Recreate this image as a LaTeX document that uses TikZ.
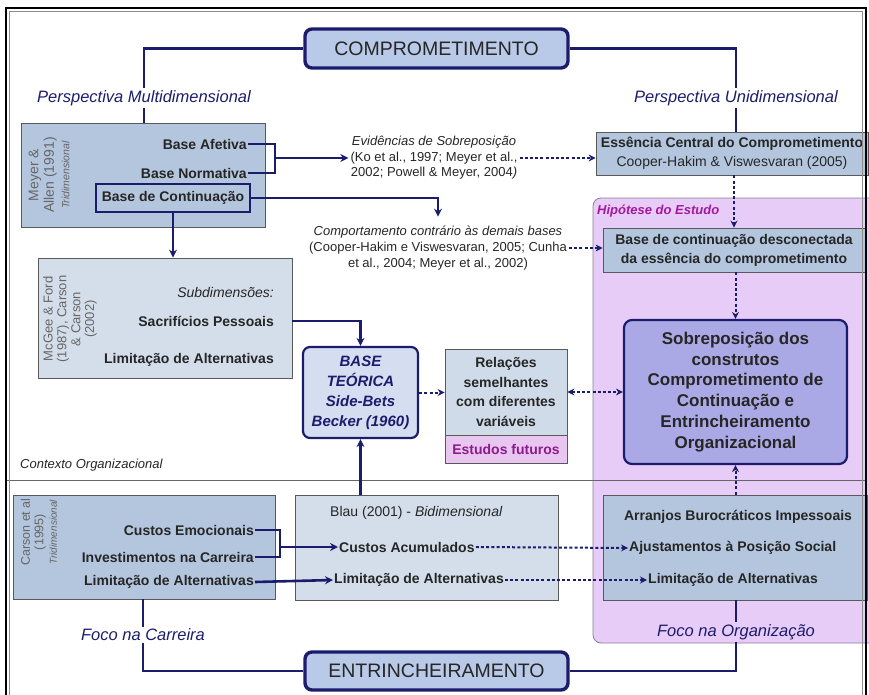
\documentclass[tikz,border=0pt]{standalone}
\usepackage{fontspec}
\setmainfont{Liberation Sans}
\usetikzlibrary{arrows.meta}

\definecolor{dknavy}{HTML}{1C1C6C}
\definecolor{steel}{HTML}{B4C6DE}
\definecolor{pale}{HTML}{D4DEEA}
\definecolor{keyfill}{HTML}{B9C9E8}
\definecolor{basefill}{HTML}{D5DEF1}
\definecolor{sobfill}{HTML}{ABA8E6}
\definecolor{hipfill}{HTML}{E7CCF8}
\definecolor{hipline}{HTML}{8F7C9C}
\definecolor{hipcol}{HTML}{A3199B}
\definecolor{futfill}{HTML}{E9C6F0}
\definecolor{futcol}{HTML}{8C1A8C}
\definecolor{relfill}{HTML}{CFDBE8}

\begin{document}
\begin{tikzpicture}[x=1pt,y=1pt,yscale=-1,
  lbl/.style={inner sep=1pt, text=black!85, font=\fontsize{14}{19}\selectfont\bfseries},
  cite/.style={inner sep=2pt, align=center, text=black!85, font=\fontsize{13}{16}\selectfont},
  persp/.style={inner sep=2pt, text=dknavy, font=\fontsize{16.5}{19}\selectfont\itshape},
  side/.style={rotate=90, align=center, inner sep=0pt, text=black!60},
  bluebox/.style={draw=black!65, fill=steel, line width=0.8pt, inner sep=0pt},
  palebox/.style={draw=black!65, fill=pale, line width=0.8pt, inner sep=0pt},
  keybox/.style={draw=dknavy, fill=keyfill, line width=3.4pt, rounded corners=7pt, text=black!85, font=\fontsize{19.5}{22}\selectfont},
  link/.style={draw=dknavy, line width=2.6pt},
  arr/.style={link, -{Stealth[length=8pt, width=8pt]}},
  dotarr/.style={draw=dknavy, line width=2pt, dash pattern=on 3pt off 2.2pt, -{Stealth[length=7pt, width=7pt]}}]
\useasboundingbox (0,0) rectangle (869,695);

%Shape: Hypothesis region
\draw[draw=hipline, fill=hipfill, line width=0.8pt, rounded corners=8pt] (593,198) rectangle (885,643);
%Straight Lines: context separator
\draw[black!60, line width=0.8pt] (7,480) -- (866,480);

% Text Node
\node[anchor=west, inner sep=0pt, text=hipcol, font=\fontsize{13}{15}\selectfont\bfseries\itshape] (hip) at (597,211) {Hipótese do Estudo};

%Shape: COMPROMETIMENTO
\node[keybox, minimum width=263pt, minimum height=39pt] (compr) at (436.5,48.5) {COMPROMETIMENTO};
% Text Node
\node[persp] (pmulti) at (144,98) {Perspectiva Multidimensional};
% Text Node
\node[persp] (puni) at (736,98) {Perspectiva Unidimensional};
\draw[link] (compr.west) -| (pmulti.north);
\draw[link] (compr.east) -| (puni.north);

%Shape: Meyer & Allen
\node[bluebox, minimum width=244pt, minimum height=104pt] (meyer) at (143,175) {};
\node[side, font=\fontsize{14}{15.5}\selectfont] (meyerlbl) at (49,175) {Meyer \&\\Allen (1991)\\{\fontsize{10.5}{16}\selectfont\itshape Tridimensional}};
\node[lbl, anchor=east] (bafet) at (248,144) {Base Afetiva};
\node[lbl, anchor=east] (bnorm) at (248,173) {Base Normativa};
\node[lbl, draw=dknavy, line width=2.4pt, minimum width=154pt, minimum height=28pt, inner sep=0pt] (bcont) at (173,198) {Base de Continuação};
\draw[link] (pmulti.south) -- (pmulti.south |- meyer.north);

\coordinate (jmeyer) at (275,158);
\draw[link] (bafet.east) -| (jmeyer) |- (bnorm.east);

% Text Node
\node[cite, font=\fontsize{13}{15.5}\selectfont] (evid) at (434,158) {\textit{Evidências de Sobreposição}\\(Ko et al., 1997; Meyer et al.,\\2002; Powell \& Meyer, 2004\textit{)}};
\draw[arr] (jmeyer) -- (jmeyer -| evid.west);

%Shape: Essencia
\node[bluebox, minimum width=272pt, minimum height=43pt, align=center, text=black!85, font=\fontsize{14}{19}\selectfont] (ess) at (732,153.5) {\textbf{Essência Central do Comprometimento}\\Cooper-Hakim \& Viswesvaran (2005)};
\draw[link] (puni.south) -- (puni.south |- ess.north);
\draw[dotarr] (evid.east) -- (evid.east -| ess.west);

% Text Node
\node[cite, inner ysep=9pt] (comp) at (438,248) {\textit{Comportamento contrário às demais bases}\\(Cooper-Hakim e Viswesvaran, 2005; Cunha\\et al., 2004; Meyer et al., 2002)};
\draw[arr] (bcont.east) -| (comp.north);

%Shape: Base desconectada
\node[bluebox, minimum width=262pt, minimum height=44pt, align=center, text=black!85, font=\fontsize{14}{19}\selectfont\bfseries] (bdesc) at (734,250) {Base de continuação desconectada\\da essência do comprometimento};
\draw[dotarr] (comp.east) -- (comp.east -| bdesc.west);
\draw[dotarr] (bdesc.north |- ess.south) -- (bdesc.north);

%Shape: Sobreposicao
\node[draw=dknavy, fill=sobfill, line width=2.2pt, rounded corners=8pt, minimum width=223pt, minimum height=144pt, inner sep=0pt, align=center, text=black!85, font=\fontsize{17}{20.8}\selectfont\bfseries] (sobre) at (735.5,392) {Sobreposição dos\\construtos\\Comprometimento de\\Continuação e\\Entrincheiramento\\Organizacional};
\draw[dotarr] (sobre.north |- bdesc.south) -- (sobre.north);

%Shape: McGee & Ford
\node[palebox, minimum width=254pt, minimum height=120pt] (mcgee) at (165,318) {};
\node[side, font=\fontsize{13}{13.8}\selectfont] (mcgeelbl) at (70,319) {McGee \& Ford\\(1987), Carson\\\& Carson\\(2002)};
\node[anchor=east, inner sep=1pt, text=black!85, font=\fontsize{14}{17}\selectfont\itshape] (subd) at (275,292) {Subdimensões:};
\node[lbl, anchor=east] (sacr) at (275,321) {Sacrifícios Pessoais};
\node[lbl, anchor=east] (mlim) at (275,360) {Limitação de Alternativas};
\draw[arr] (bcont.south) -- (bcont.south |- mcgee.north);

%Shape: Base teorica
\node[draw=dknavy, fill=basefill, line width=2.2pt, rounded corners=7pt, minimum width=115pt, minimum height=91pt, inner sep=0pt, align=center, text=dknavy, font=\fontsize{15}{20}\selectfont\bfseries\itshape] (base) at (360.5,392.5) {BASE\\TEÓRICA\\Side-Bets\\Becker (1960)};
\draw[arr] (mcgee.east |- sacr) -| (base.north);

%Shape: Relacoes
\node[palebox, fill=relfill, minimum width=122pt, minimum height=86pt, align=center, text=black!85, font=\fontsize{14}{19.5}\selectfont\bfseries] (rel) at (506,392) {Relações\\semelhantes\\com diferentes\\variáveis};
\node[draw=black!65, fill=futfill, line width=0.8pt, minimum width=122pt, minimum height=28pt, inner sep=0pt, text=futcol, font=\fontsize{14}{17}\selectfont\bfseries] (fut) at (506,449) {Estudos futuros};
\draw[dotarr] (base.east) -- (base.east -| rel.west);
\draw[dotarr, {Stealth[length=7pt, width=7pt]}-{Stealth[length=7pt, width=7pt]}] (rel.east) -- (rel.east -| sobre.west);

% Text Node
\node[anchor=west, inner sep=0pt, text=black!85, font=\fontsize{13}{15}\selectfont\itshape] (ctx) at (20,465) {Contexto Organizacional};

%Shape: Carson
\node[bluebox, minimum width=262pt, minimum height=104pt] (carson) at (144,547) {};
\node[side, font=\fontsize{12.5}{13.5}\selectfont] (carsonlbl) at (39,532) {Carson et al\\(1995)\\{\fontsize{10}{15.5}\selectfont\itshape Tridimensional}};
\node[lbl, anchor=east] (cemo) at (255,530) {Custos Emocionais};
\node[lbl, anchor=east] (cinv) at (255,557) {Investimentos na Carreira};
\node[lbl, anchor=east] (clim) at (255,582) {Limitação de Alternativas};
\coordinate (jcar) at (280,547);
\draw[link] (cemo.east) -| (jcar) |- (cinv.east);

%Shape: Blau
\node[palebox, minimum width=263pt, minimum height=105pt] (blau) at (426.5,547.5) {};
\node[anchor=west, inner sep=0pt, text=black!85, font=\fontsize{14}{17}\selectfont] (blaulbl) at (330,513) {Blau (2001) - \textit{Bidimensional}};
\node[lbl, anchor=west] (cacum) at (338,547) {Custos Acumulados};
\node[lbl, anchor=west] (blim) at (333,580) {Limitação de Alternativas};
\draw[arr] (jcar) -- (cacum.west);
\draw[arr] (clim.east) -- (blim.west);
\draw[arr] (blau.north -| base) -- (base.south);

%Shape: Arranjos
\node[bluebox, minimum width=264pt, minimum height=105pt] (arranj) at (735,547.5) {};
\node[lbl] (arb) at (738,517) {Arranjos Burocráticos Impessoais};
\node[lbl, anchor=west] (ajus) at (628,548) {Ajustamentos à Posição Social};
\node[lbl, anchor=west] (alim) at (647,580) {Limitação de Alternativas};
\draw[dotarr] (cacum.east) -- (ajus.west);
\draw[dotarr] (blim.east) -- (alim.west);
\draw[dotarr] (sobre.south |- arranj.north) -- (sobre.south);

%Shape: ENTRINCHEIRAMENTO
\node[keybox, minimum width=263pt, minimum height=38pt] (entr) at (436.5,671) {ENTRINCHEIRAMENTO};
% Text Node
\node[persp] (fcar) at (143,635) {Foco na Carreira};
% Text Node
\node[persp] (forg) at (736,632) {Foco na Organização};
\draw[link] (carson.south -| fcar) -- (fcar.north);
\draw[link] (fcar.south) |- (entr.west);
\draw[link] (arranj.south -| forg) -- (forg.north);
\draw[link] (forg.south) |- (entr.east);

%Shape: Frame
\draw[line width=1.8pt] (6,8) rectangle (866,720);
\draw[black!45, line width=0.6pt] (9.5,11.5) rectangle (862.5,720);

\end{tikzpicture}
\end{document}
